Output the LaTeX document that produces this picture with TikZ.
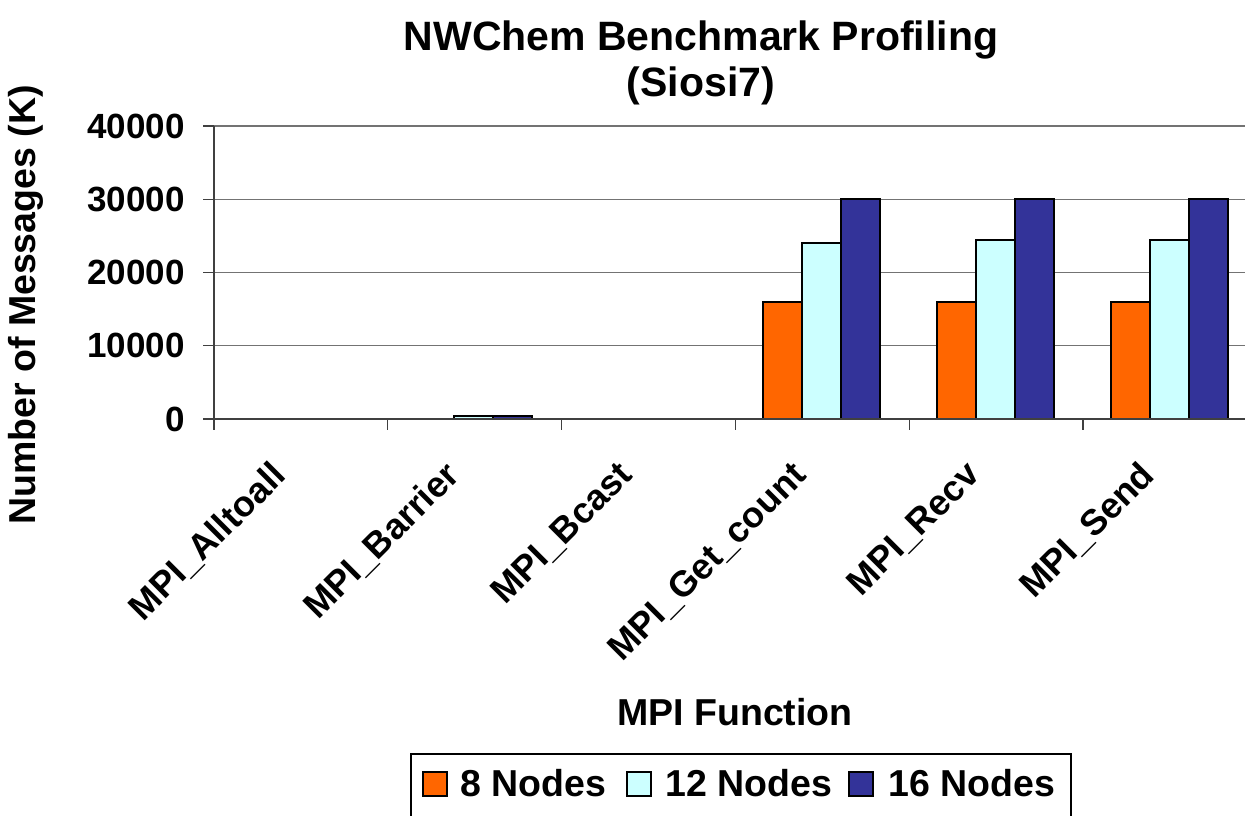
\documentclass[tikz,border=0pt]{standalone}
\usepackage{fontspec}
\setmainfont{Liberation Sans}
\begin{document}
\begin{tikzpicture}[x=1pt,y=-1pt,
  every node/.style={inner sep=0pt,font=\bfseries},
  grid/.style={draw=black!55,line width=1.3pt},
  axisline/.style={draw=black!75,line width=1.3pt},
  bar/.style={draw=black,line width=2pt},
  ticklab/.style={font=\fontsize{35}{40}\selectfont\bfseries},
  catlab/.style={font=\fontsize{36}{40}\selectfont\bfseries,rotate=45,anchor=north east},
  axtitle/.style={font=\fontsize{37.5}{42}\selectfont\bfseries},
  legtext/.style={font=\fontsize{37.5}{42}\selectfont\bfseries,anchor=base west},
  legbox/.style={draw=black,line width=1.5pt},
  legkey/.style={draw=black,line width=1.5pt}]
\definecolor{cEight}{HTML}{FF6600}
\definecolor{cTwelve}{HTML}{CCFFFF}
\definecolor{cSixteen}{HTML}{333399}
\useasboundingbox (0,0) rectangle (1245,815);
\clip (0,0) rectangle (1245,815);
\fill[white] (0,0) rectangle (1245,815);
% gridlines
\foreach \v in {1,2,3,4} \draw[grid] (214,{419-73.25*\v}) -- (1260,{419-73.25*\v});
% y ticks and labels
\foreach \v/\t in {0/0,1/10000,2/20000,3/30000,4/40000}{
  \draw[axisline] (203,{419-73.25*\v}) -- (214,{419-73.25*\v});
  \node[ticklab,anchor=east] (yl\v) at (185,{419-73.25*\v}) {\t};
}
% bars (values in thousands)
\newcommand\mybar[4]{% cat index, series index, value (K), color
  \draw[bar,fill=#4] ({214+173.8*#1+27.5+39*#2},419) rectangle ({214+173.8*#1+27.5+39*(#2+1)},{419-7.325*#3});}
\mybar{1}{1}{0.35}{cTwelve}
\mybar{1}{2}{0.35}{cSixteen}
\foreach \i/\a/\b/\c in {3/16/24/30,4/16/24.45/30,5/16/24.45/30}{
  \mybar{\i}{0}{\a}{cEight}
  \mybar{\i}{1}{\b}{cTwelve}
  \mybar{\i}{2}{\c}{cSixteen}
}
% axes
\draw[axisline] (214,126) -- (214,420);
\draw[axisline] (213,419) -- (1260,419);
\foreach \i in {0,...,6} \draw[axisline] ({214+173.8*\i},419) -- ({214+173.8*\i},430);
% category labels
\foreach \i/\n in {0/MPI\_Alltoall,1/MPI\_Barrier,2/MPI\_Bcast,3/MPI\_Get\_count,4/MPI\_Recv,5/MPI\_Send}
  \node[catlab] (cl\i) at ({214+173.8*\i+86.9-32},459) {\n};
% titles
\node[font=\fontsize{41}{46}\selectfont\bfseries,anchor=base] (t1) at (701,50) {NWChem Benchmark Profiling};
\node[font=\fontsize{41}{46}\selectfont\bfseries,anchor=base] (t2) at (701,96) {(Siosi7)};
\node[axtitle] (xt) at (735,712) {MPI Function};
\node[axtitle,rotate=90] (yt) at (26,305) {Number of Messages (K)};
% legend
\draw[legbox] (411,754) rectangle (1071,840);
\draw[legkey,fill=cEight] (423,772) rectangle (447,796);
\node[legtext] (l1) at (460,796) {8 Nodes};
\draw[legkey,fill=cTwelve] (627,772) rectangle (651,796);
\node[legtext] (l2) at (665,796) {12 Nodes};
\draw[legkey,fill=cSixteen] (849,772) rectangle (873,796);
\node[legtext] (l3) at (888,796) {16 Nodes};
\end{tikzpicture}
\end{document}
